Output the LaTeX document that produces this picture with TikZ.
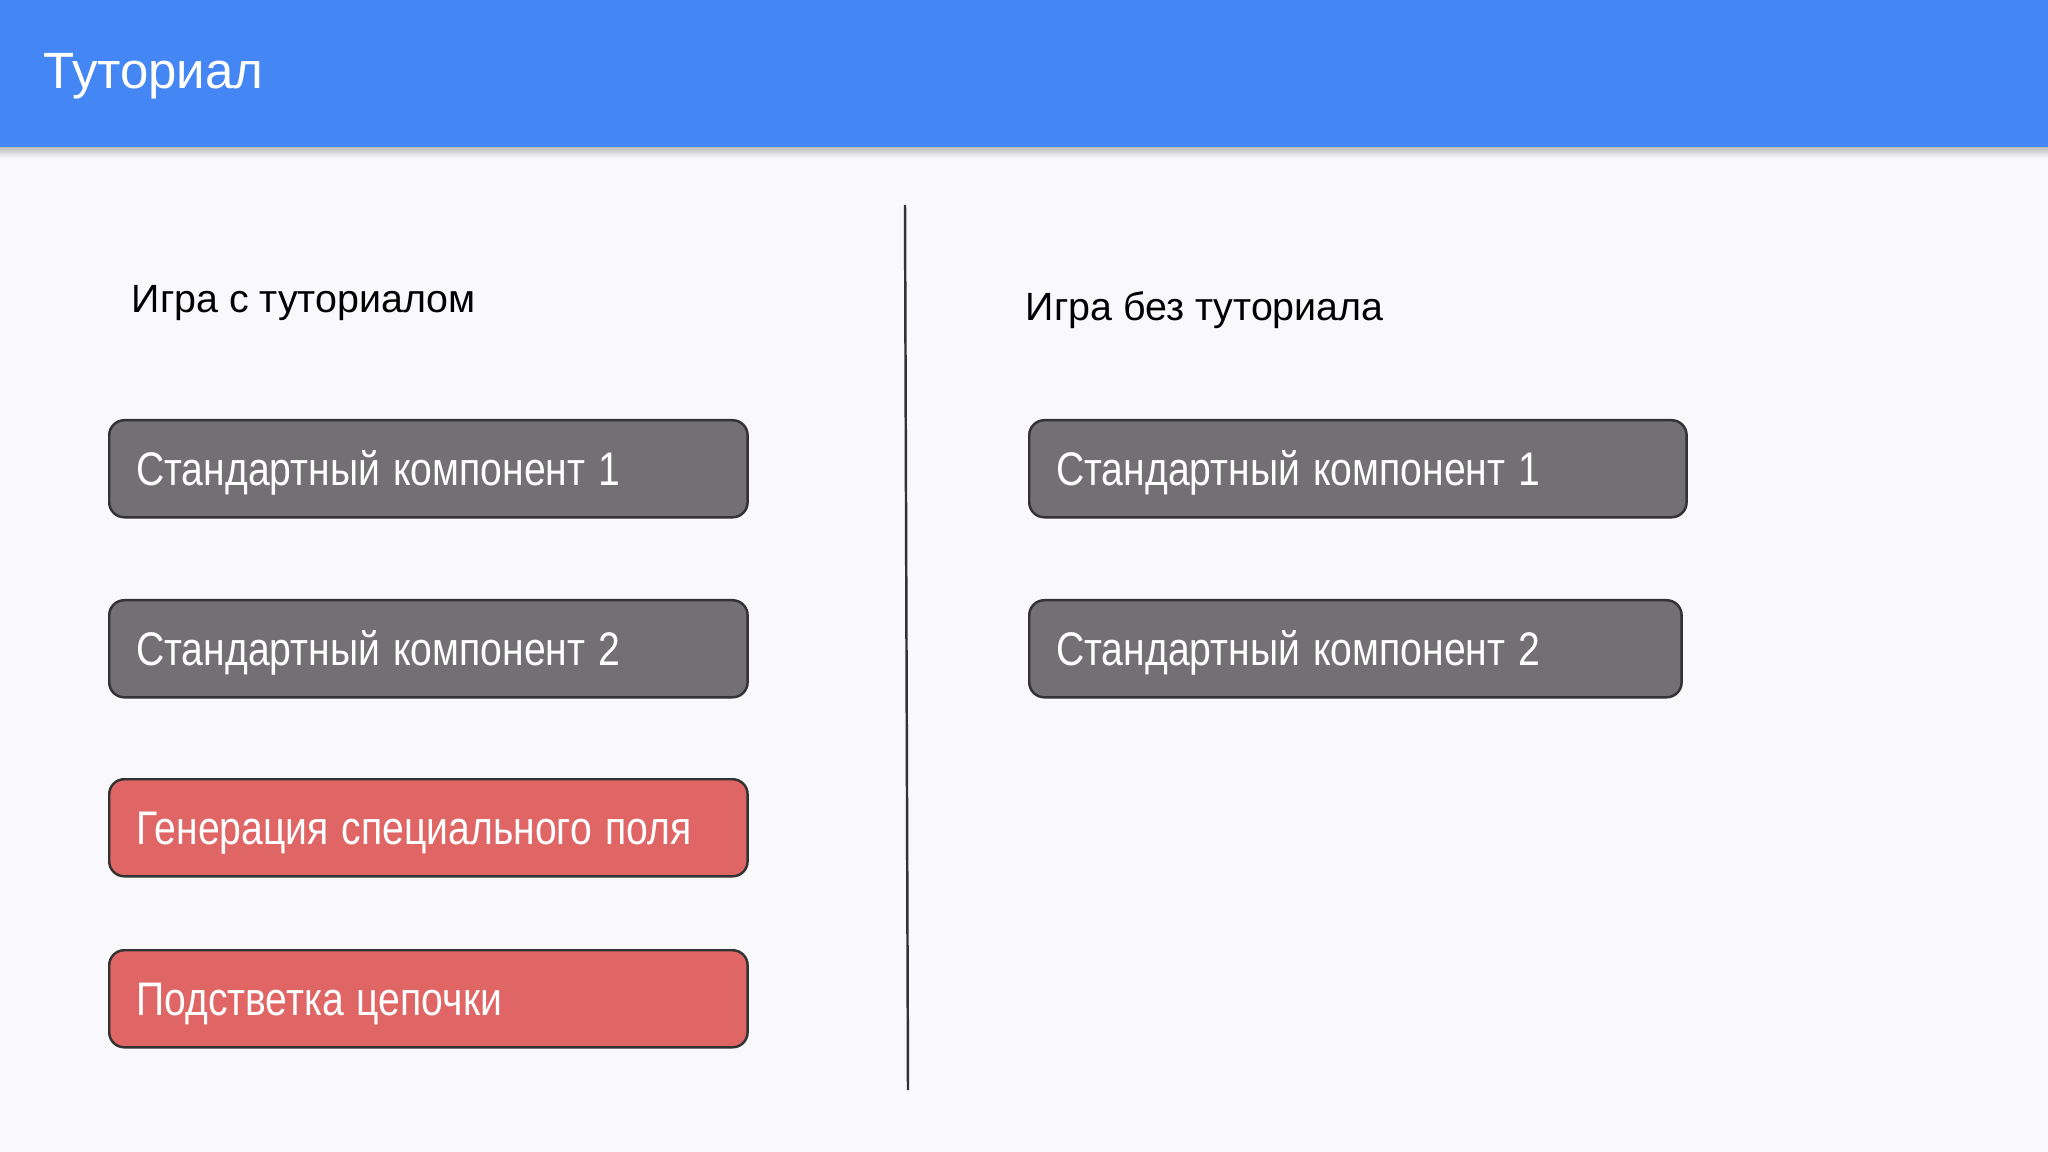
\documentclass[tikz,border=0pt]{standalone}
\usepackage{fontspec}
\usepackage{graphicx}
\setmainfont{Liberation Sans}
\newcommand\narrow[1]{\scalebox{0.83}[1]{#1}}
\definecolor{pageback}{HTML}{F9F8FA}
\definecolor{headblue}{HTML}{4486F4}
\definecolor{stdgray}{HTML}{737074}
\definecolor{tutred}{HTML}{E06666}
\definecolor{edgedark}{HTML}{333333}
\tikzset{
	compbox/.style = {draw = edgedark, line width = 0.7pt, rounded corners = 0.15cm,
		anchor = north west, minimum height = 0.97cm, inner xsep = 0.27cm,
		text height = 0.338cm, text depth = 0pt,
		align = left, text = white, font = \fontsize{13.4}{15}\selectfont},
	graybox/.style = {compbox, fill = stdgray},
	redbox/.style  = {compbox, fill = tutred},
	colhead/.style = {anchor = base west, inner sep = 0pt, font = \fontsize{11.2}{13}\selectfont}
}
\begin{document}
\begin{tikzpicture}[x=0.01cm, y=-0.01cm]
	\useasboundingbox (0,0) rectangle (2048,1152);
	\fill[pageback] (0,0) rectangle (2048,1152);
	\shade[top color = black!30, bottom color = pageback] (0,145) rectangle (2048,158);
	\fill[headblue] (0,0) rectangle (2048,147);
	\node (title) at (43,89) [anchor = base west, inner sep = 0pt, text = white,
		font = \fontsize{14.5}{17}\selectfont] {Туториал};

	% left column
	\node (HL) at (131,313)	[colhead]	{Игра с туториалом};
	\node (L1) at (108,419)	[graybox, text width = 5.84cm]	{\narrow{Стандартный компонент 1}};
	\node (L2) at (108,599)	[graybox, text width = 5.84cm]	{\narrow{Стандартный компонент 2}};
	\node (L3) at (108,778)	[redbox, text width = 5.84cm]	{\narrow{Генерация специального поля}};
	\node (L4) at (108,949)	[redbox, text width = 5.84cm]	{\narrow{Подстветка цепочки}};

	% right column
	\node (HR) at (1025,321)	[colhead]	{Игра без туториала};
	\node (R1) at (1028,419)	[graybox, text width = 6.03cm]	{\narrow{Стандартный компонент 1}};
	\node (R2) at (1028,599)	[graybox, text width = 5.98cm]	{\narrow{Стандартный компонент 2}};

	% divider
	\coordinate (dtop) at (905,205);
	\coordinate (dbot) at (908,1090);
	\draw[edgedark, line width = 0.7pt] (dtop) -- (dbot);
\end{tikzpicture}
\end{document}
